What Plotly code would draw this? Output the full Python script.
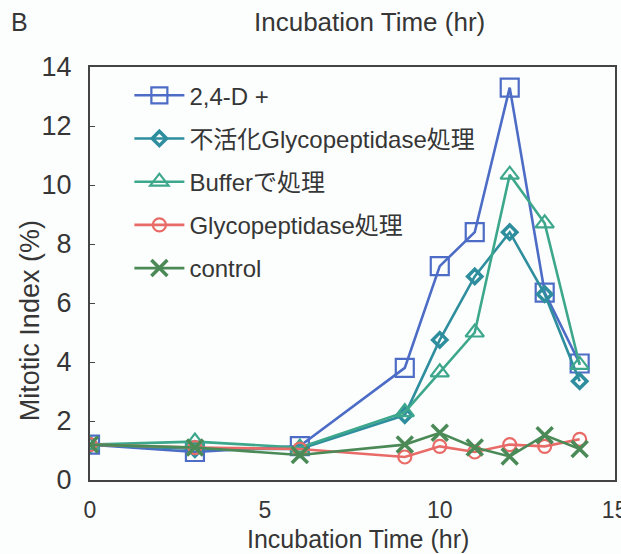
import plotly.graph_objects as go

hours = [0, 3, 6, 9, 10, 11, 12, 13, 14]
names = ["2,4-D +", "不活化Glycopeptidase処理", "Bufferで処理", "Glycopeptidase処理", "control"]
d24 = [1.2, 0.95, 1.15, 3.8, 7.25, 8.4, 13.3, 6.35, 3.95]
inactive = [1.2, 1.05, 1.05, 2.2, 4.75, 6.9, 8.4, 6.3, 3.35]
buffer = [1.2, 1.3, 1.1, 2.3, 3.65, 5.0, 10.35, 8.7, 3.9]
glyco = [1.2, 1.1, 1.05, 0.78, 1.14, 0.95, 1.2, 1.14, 1.38]
control = [1.2, 1.1, 0.85, 1.2, 1.6, 1.1, 0.8, 1.52, 1.05]
xticks = [0, 5, 10, 15]
yticks = [0, 2, 4, 6, 8, 10, 12, 14]

series = [d24, inactive, buffer, glyco, control]
colors = ["#4d6cc6", "#2f8e9e", "#3da78c", "#e86b68", "#4b8a57"]
symbols = ["square-open", "diamond-open", "triangle-up-open", "circle-open", "x-thin-open"]
sizes = [18, 11, 16, 13, 16]
mlw = [2.2, 3.5, 2.2, 2.2, 3.5]

FONT = "Liberation Sans, Arial, Noto Sans CJK JP, sans-serif"
TXT = "#363636"

fig = go.Figure()
for i, (nm, ys) in enumerate(zip(names, series)):
    fig.add_trace(go.Scatter(
        x=hours, y=ys, name=nm, mode="lines+markers", legendgroup=str(i),
        line=dict(color=colors[i], width=2.6),
        marker=dict(symbol=symbols[i], size=sizes[i], color=colors[i],
                    line=dict(color=colors[i], width=mlw[i])),
    ))

fig.update_layout(
    width=621, height=554,
    margin=dict(l=90, r=6, t=67, b=74, autoexpand=False),
    paper_bgcolor="#fcfefd", plot_bgcolor="#fcfefd",
    font=dict(family=FONT, color=TXT),
    showlegend=True,
    legend=dict(x=0.075, y=0.985, xanchor="left", yanchor="top",
                bgcolor="rgba(0,0,0,0)", font=dict(size=24, color=TXT),
                tracegroupgap=9, itemwidth=50),
    xaxis=dict(range=[0, 15.01], tickvals=xticks, ticks="", showgrid=False, zeroline=False,
               showline=True, linecolor="#444444", linewidth=2, mirror=True,
               tickfont=dict(size=23, color=TXT), ticklabelstandoff=8,
               ticklabeloverflow="allow"),
    yaxis=dict(range=[0, 14], tickvals=yticks, ticks="inside", ticklen=5, tickcolor="#444444",
               showgrid=False, zeroline=False,
               showline=True, linecolor="#444444", linewidth=2, mirror=True,
               tickfont=dict(size=27, color=TXT), ticklabelstandoff=11),
    annotations=[
        dict(text="B", xref="paper", yref="paper", x=-0.155, y=1.11, xanchor="left",
             yanchor="middle", showarrow=False, font=dict(size=25, color=TXT)),
        dict(text="Incubation Time (hr)", xref="paper", yref="paper", x=0.533, y=1.11,
             xanchor="center", yanchor="middle", showarrow=False,
             font=dict(size=26, color=TXT)),
        dict(text="Incubation Time (hr)", xref="paper", yref="paper", x=0.51, y=-0.142,
             xanchor="center", yanchor="middle", showarrow=False,
             font=dict(size=25, color=TXT)),
        dict(text="Mitotic Index (%)", xref="paper", yref="paper", x=-0.114, y=0.385,
             xanchor="center", yanchor="middle", showarrow=False, textangle=-90,
             font=dict(size=27, color=TXT)),
    ],
)

fig.write_html("out.html")
